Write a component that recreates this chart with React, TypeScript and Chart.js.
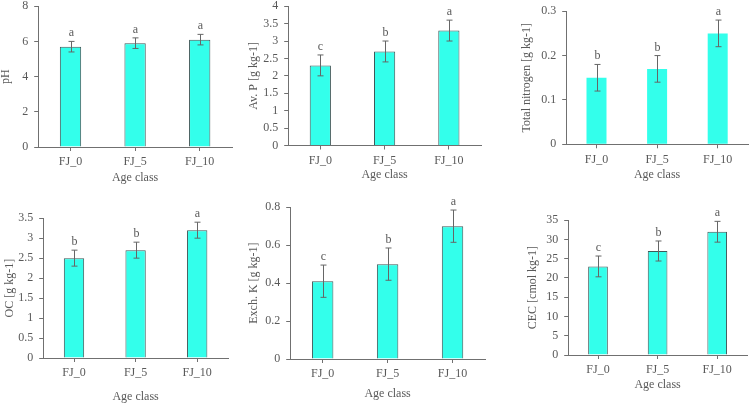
import React, { useEffect, useRef } from "react";
import { Chart, registerables } from "chart.js";

Chart.register(...registerables);

// ---- data ----
const categories = ["FJ_0", "FJ_5", "FJ_10"];

const phValues = [5.7, 5.9, 6.1];
const phErrors = [0.3, 0.3, 0.3];
const phLetters = ["a", "a", "a"];

const avPValues = [2.3, 2.7, 3.3];
const avPErrors = [0.3, 0.3, 0.3];
const avPLetters = ["c", "b", "a"];

const nitrogenValues = [0.15, 0.17, 0.25];
const nitrogenErrors = [0.03, 0.03, 0.03];
const nitrogenLetters = ["b", "b", "a"];

const ocValues = [2.5, 2.7, 3.2];
const ocErrors = [0.2, 0.2, 0.2];
const ocLetters = ["b", "b", "a"];

const kValues = [0.41, 0.5, 0.7];
const kErrors = [0.085, 0.085, 0.085];
const kLetters = ["c", "b", "a"];

const cecValues = [23, 27, 32];
const cecErrors = [2.7, 2.6, 2.7];
const cecLetters = ["c", "b", "a"];

const xTitle = "Age class";

// ---- styling ----
const FONT_FAMILY = "'Liberation Serif', 'Times New Roman', serif";
const TEXT_COLOR = "#595959";
const AXIS_COLOR = "#707070";
const BAR_FILL = "#33FFEB";
const BAR_EDGE = "#3f5858";
const ERR_COLOR = "#666666";

type Panel = {
  yTitle: string;
  values: number[];
  errors: number[];
  letters: string[];
  max: number;
  step: number;
  edge: boolean;
  plot: { l: number; t: number; r: number; b: number };
  yTitleX: number;
  xTitleY: number;
};

const panels: Panel[] = [
  { yTitle: "pH", values: phValues, errors: phErrors, letters: phLetters, max: 8, step: 2, edge: true,
    plot: { l: 38, t: 5, r: 232, b: 147 }, yTitleX: 6, xTitleY: 178 },
  { yTitle: "Av. P [g kg-1]", values: avPValues, errors: avPErrors, letters: avPLetters, max: 4, step: 0.5, edge: true,
    plot: { l: 288, t: 5, r: 481, b: 145.5 }, yTitleX: 254, xTitleY: 175 },
  { yTitle: "Total nitrogen [g kg-1]", values: nitrogenValues, errors: nitrogenErrors, letters: nitrogenLetters, max: 0.3, step: 0.1, edge: false,
    plot: { l: 566, t: 10, r: 748, b: 144.3 }, yTitleX: 527, xTitleY: 175 },
  { yTitle: "OC [g kg-1]", values: ocValues, errors: ocErrors, letters: ocLetters, max: 3.5, step: 0.5, edge: true,
    plot: { l: 43, t: 217, r: 228, b: 358 }, yTitleX: 10, xTitleY: 397 },
  { yTitle: "Exch. K [g kg-1]", values: kValues, errors: kErrors, letters: kLetters, max: 0.8, step: 0.2, edge: true,
    plot: { l: 290, t: 206, r: 485, b: 359 }, yTitleX: 254, xTitleY: 394 },
  { yTitle: "CEC [cmol kg-1]", values: cecValues, errors: cecErrors, letters: cecLetters, max: 35, step: 5, edge: true,
    plot: { l: 568, t: 219, r: 747, b: 355 }, yTitleX: 533, xTitleY: 385 },
];

const LH = 14.4; // 12px font * 1.2 line height

function boxOf(p: Panel) {
  const left = p.yTitleX - LH / 2 - 2;
  const top = p.plot.t - 12;
  const right = p.plot.r + 4;
  const bottom = p.xTitleY + 12;
  return { left, top, width: right - left, height: bottom - top };
}

// error bars and significance letters drawn on top of the bars
const errorBarPlugin = {
  id: "errorBars",
  afterDatasetsDraw(chart: any) {
    const panel: Panel = chart.options.plugins.errorBars.panel;
    const { ctx } = chart;
    const x = chart.scales.x;
    const y = chart.scales.y;
    ctx.save();
    panel.values.forEach((v, i) => {
      const e = panel.errors[i];
      const cx = Math.round(x.getPixelForValue(i)) + 0.5;
      const yHi = y.getPixelForValue(v + e);
      const yLo = y.getPixelForValue(v - e);
      ctx.strokeStyle = ERR_COLOR;
      ctx.lineWidth = 1;
      ctx.beginPath();
      ctx.moveTo(cx, yHi);
      ctx.lineTo(cx, yLo);
      ctx.moveTo(cx - 3, yHi);
      ctx.lineTo(cx + 3, yHi);
      ctx.moveTo(cx - 3, yLo);
      ctx.lineTo(cx + 3, yLo);
      ctx.stroke();
      ctx.fillStyle = TEXT_COLOR;
      ctx.font = `12px ${FONT_FAMILY}`;
      ctx.textAlign = "center";
      ctx.textBaseline = "alphabetic";
      ctx.fillText(panel.letters[i], cx, yHi - 5);
    });
    ctx.restore();
  },
};

function BarPanel({ panel }: { panel: Panel }) {
  const ref = useRef<HTMLCanvasElement | null>(null);
  const box = boxOf(panel);

  useEffect(() => {
    if (!ref.current) return;
    const yWidth = panel.plot.l - box.left;
    const xHeight = box.top + box.height - panel.plot.b;
    const padRight = box.left + box.width - panel.plot.r;
    const padTop = panel.plot.t - box.top;
    const font = { family: FONT_FAMILY, size: 12 };

    const chart = new Chart(ref.current, {
      type: "bar",
      data: {
        labels: categories,
        datasets: [
          {
            data: panel.values,
            backgroundColor: BAR_FILL,
            borderColor: panel.edge ? BAR_EDGE : BAR_FILL,
            borderWidth: panel.edge ? 1 : 0,
            categoryPercentage: 1,
            barPercentage: 0.33,
          },
        ],
      },
      options: {
        animation: false,
        responsive: false,
        maintainAspectRatio: false,
        layout: { padding: { top: padTop, right: padRight, left: 0, bottom: 0 } },
        plugins: {
          legend: { display: false },
          tooltip: { enabled: false },
          errorBars: { panel },
        } as any,
        scales: {
          x: {
            offset: true,
            grid: { drawOnChartArea: false, drawTicks: true, tickLength: 4, offset: false, color: AXIS_COLOR },
            border: { color: AXIS_COLOR, width: 1 },
            ticks: { color: TEXT_COLOR, font, padding: 4, maxRotation: 0 },
            title: { display: true, text: xTitle, color: TEXT_COLOR, font, padding: { top: 0, bottom: box.top + box.height - panel.xTitleY - LH / 2 } },
            afterFit: (s: any) => { s.height = xHeight; },
          },
          y: {
            min: 0,
            max: panel.max,
            grid: { drawOnChartArea: false, drawTicks: true, tickLength: 4, color: AXIS_COLOR },
            border: { color: AXIS_COLOR, width: 1 },
            ticks: {
              stepSize: panel.step,
              color: TEXT_COLOR,
              font,
              padding: 6,
              callback: (v: any) => String(+Number(v).toFixed(2)),
            },
            title: { display: true, text: panel.yTitle, color: TEXT_COLOR, font, padding: { top: 2, bottom: 0 } },
            afterFit: (s: any) => { s.width = yWidth; },
          },
        },
      },
      plugins: [errorBarPlugin],
    } as any);
    return () => chart.destroy();
  }, []);

  return (
    <canvas
      ref={ref}
      width={Math.round(box.width)}
      height={Math.round(box.height)}
      style={{
        position: "absolute",
        left: box.left,
        top: box.top,
        width: Math.round(box.width),
        height: Math.round(box.height),
      }}
    />
  );
}

export default function App() {
  return (
    <div
      style={{
        position: "fixed",
        left: 0,
        top: 0,
        width: 750,
        height: 405,
        overflow: "hidden",
        background: "#ffffff",
      }}
    >
      {panels.map((p) => (
        <BarPanel key={p.yTitle} panel={p} />
      ))}
    </div>
  );
}
